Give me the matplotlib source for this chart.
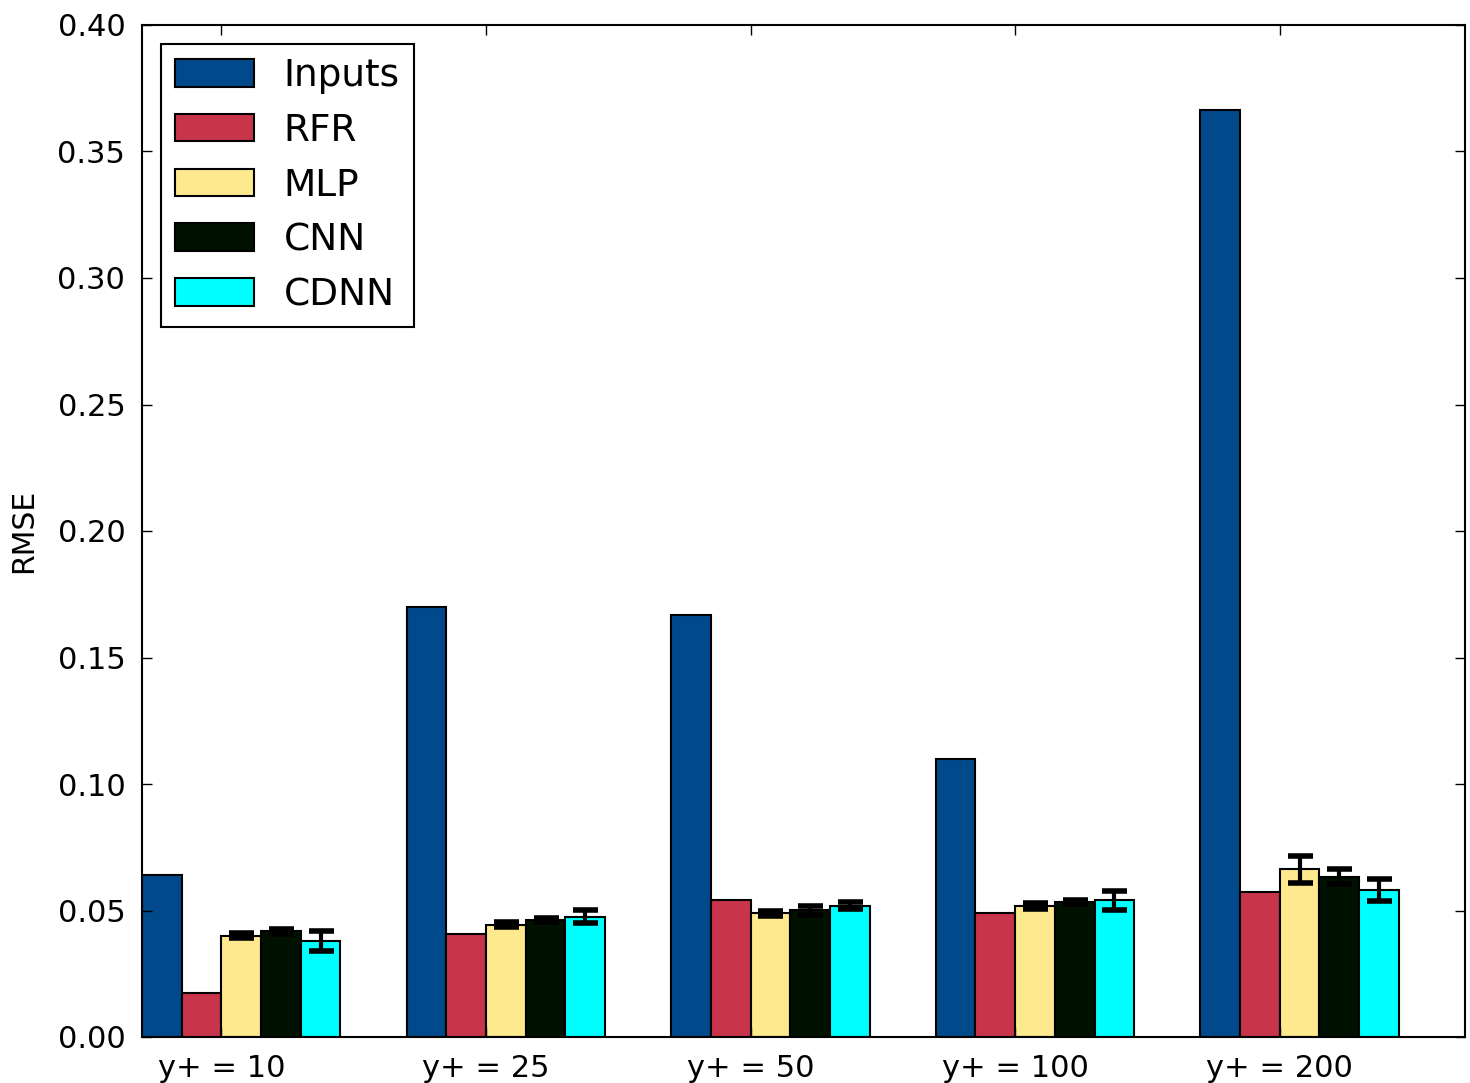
import numpy as np
import matplotlib
matplotlib.use("Agg")
import matplotlib.pyplot as plt

groups = ["y+ = 10", "y+ = 25", "y+ = 50", "y+ = 100", "y+ = 200"]
series = ["Inputs", "RFR", "MLP", "CNN", "CDNN"]
inputs = [0.0642, 0.1700, 0.1668, 0.1099, 0.3664]
rfr = [0.0175, 0.0408, 0.0543, 0.0491, 0.0573]
mlp = [0.0400, 0.0444, 0.0489, 0.0518, 0.0663]
cnn = [0.0418, 0.0462, 0.0501, 0.0532, 0.0634]
cdnn = [0.0378, 0.0476, 0.0519, 0.0541, 0.0581]
mlp_err = [0.0010, 0.0010, 0.0010, 0.0013, 0.0053]
cnn_err = [0.0010, 0.0008, 0.0017, 0.0008, 0.0030]
cdnn_err = [0.0040, 0.0026, 0.0013, 0.0038, 0.0045]
colors = ["#004a8b", "#c8344a", "#ffe98f", "#001100", "#00ffff"]

values = [inputs, rfr, mlp, cnn, cdnn]
errors = [None, None, mlp_err, cnn_err, cdnn_err]

fig = plt.figure(figsize=(14.7, 10.83), dpi=100)
ax = fig.add_axes([142/1470, 1 - 1037/1083, (1465-142)/1470, (1037-25)/1083])

ind = np.arange(len(groups))
width = 0.15
for i, (name, vals, err, col) in enumerate(zip(series, values, errors, colors)):
    ax.bar(ind + i*width, vals, width, align="edge", color=col, edgecolor="black",
           linewidth=1.5, label=name,
           yerr=err, error_kw=dict(ecolor="black", elinewidth=3, capsize=9, capthick=4))

ax.set_xlim(0, 5)
ax.set_ylim(0, 0.40)
ax.set_yticks(np.arange(0, 0.401, 0.05))
ax.set_yticklabels([f"{v:.2f}" for v in np.arange(0, 0.401, 0.05)])
ax.set_xticks(ind + 2*width)
ax.set_xticklabels(groups)
ax.set_ylabel("RMSE", fontsize=21.5, labelpad=14)
ax.tick_params(direction="in", length=7, width=1, top=True, right=True, labelsize=22, pad=12)
for s in ax.spines.values():
    s.set_linewidth(1.5)

leg = ax.legend(loc="upper left", fontsize=27, fancybox=False, edgecolor="black",
                framealpha=1, handlelength=2.1, handleheight=0.75, borderpad=0.38,
                labelspacing=0.5, handletextpad=0.8, borderaxespad=0.5)
leg.get_frame().set_linewidth(1.5)

fig.savefig("out.png", dpi=100)
